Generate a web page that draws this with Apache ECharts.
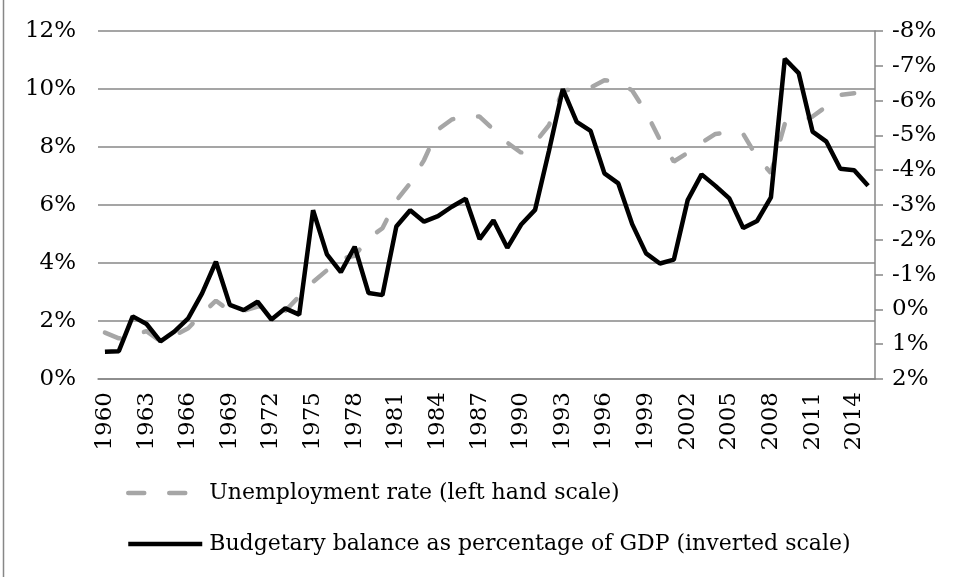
<!DOCTYPE html>
<html>
<head>
<meta charset="utf-8">
<script src="https://cdn.jsdelivr.net/npm/echarts@6/dist/echarts.min.js"></script>
<style>
html,body{margin:0;padding:0;background:#fff;}
#chart{width:961px;height:577px;}
</style>
</head>
<body>
<div id="chart"></div>
<script>
var years = ['1960','1961','1962','1963','1964','1965','1966','1967','1968','1969',
  '1970','1971','1972','1973','1974','1975','1976','1977','1978','1979',
  '1980','1981','1982','1983','1984','1985','1986','1987','1988','1989',
  '1990','1991','1992','1993','1994','1995','1996','1997','1998','1999',
  '2000','2001','2002','2003','2004','2005','2006','2007','2008','2009',
  '2010','2011','2012','2013','2014','2015'];

var unemployment = [1.6,1.4,1.5,1.65,1.3,1.5,1.75,2.25,2.7,2.35,
  2.35,2.5,2.5,2.35,2.85,3.35,3.75,4.15,4.25,4.85,
  5.2,6.15,6.75,7.55,8.6,8.95,9.05,9.05,8.6,8.15,
  7.8,8.15,8.75,9.95,10.0,10.05,10.3,10.25,9.95,9.2,
  8.25,7.5,7.8,8.15,8.45,8.5,8.45,7.65,7.1,8.8,
  8.85,9.05,9.4,9.8,9.85,null];

var budgetBalance = [1.22,1.2,0.2,0.42,0.92,0.64,0.26,-0.46,-1.37,-0.13,
  0.02,-0.22,0.29,-0.03,0.15,-2.85,-1.58,-1.07,-1.8,-0.47,
  -0.41,-2.38,-2.85,-2.52,-2.68,-2.95,-3.18,-2.02,-2.56,-1.77,
  -2.44,-2.86,-4.55,-6.33,-5.39,-5.13,-3.91,-3.62,-2.45,-1.61,
  -1.32,-1.43,-3.14,-3.88,-3.55,-3.19,-2.34,-2.54,-3.22,-7.2,
  -6.79,-5.11,-4.82,-4.04,-4.0,-3.55];

var seriesNames = ['Unemployment rate (left hand scale)',
  'Budgetary balance as percentage of GDP (inverted scale)'];

var FONT = 'DejaVu Serif';
var TICK = 23;
var chart = echarts.init(document.getElementById('chart'), null, {renderer:'canvas'});
chart.setOption({
  animation: false,
  backgroundColor: '#ffffff',
  textStyle: {fontFamily: FONT},
  grid: {left: 98, right: 86, top: 31, bottom: 198, containLabel: false},
  legend: {
    orient: 'vertical',
    left: 121,
    top: 475,
    itemWidth: 74,
    itemHeight: 14,
    itemGap: 25,
    itemStyle: {opacity: 0},
    lineStyle: {width: 4.5},
    textStyle: {fontFamily: FONT, fontSize: 22, color: '#000', lineHeight: 26, padding: [0,0,0,2]},
    data: seriesNames
  },
  xAxis: {
    type: 'category',
    data: years,
    boundaryGap: true,
    axisLine: {show: true, lineStyle: {color: '#878787', width: 1.5}},
    axisTick: {show: false},
    axisLabel: {rotate: 90, interval: 2, margin: 13, fontFamily: FONT, fontSize: TICK, color: '#000'}
  },
  yAxis: [{
    type: 'value',
    min: 0, max: 12, interval: 2,
    axisLine: {show: false},
    axisTick: {show: false},
    splitLine: {show: true, lineStyle: {color: '#878787', width: 1.5}},
    axisLabel: {formatter: '{value}%', margin: 22, fontFamily: FONT, fontSize: TICK, color: '#000'}
  }, {
    type: 'value',
    position: 'right',
    inverse: true,
    min: -8, max: 2, interval: 1,
    axisLine: {show: true, lineStyle: {color: '#878787', width: 1.5}},
    axisTick: {show: true, length: 8, lineStyle: {color: '#878787', width: 1.5}},
    splitLine: {show: false},
    axisLabel: {formatter: '{value}%', margin: 17, fontFamily: FONT, fontSize: TICK, color: '#000'}
  }],
  series: [{
    name: seriesNames[0],
    type: 'line',
    yAxisIndex: 0,
    data: unemployment,
    symbol: 'none',
    lineStyle: {color: '#a6a6a6', width: 4.5, type: [16, 25], cap: 'round'},
    itemStyle: {color: '#a6a6a6'},
    z: 2
  }, {
    name: seriesNames[1],
    type: 'line',
    yAxisIndex: 1,
    data: budgetBalance,
    symbol: 'none',
    lineStyle: {color: '#000000', width: 4.5},
    itemStyle: {color: '#000000'},
    z: 3
  }],
  graphic: [{
    type: 'line',
    shape: {x1: 3.5, y1: 0, x2: 3.5, y2: 577},
    style: {stroke: '#878787', lineWidth: 1.5},
    silent: true
  }]
});
</script>
</body>
</html>
